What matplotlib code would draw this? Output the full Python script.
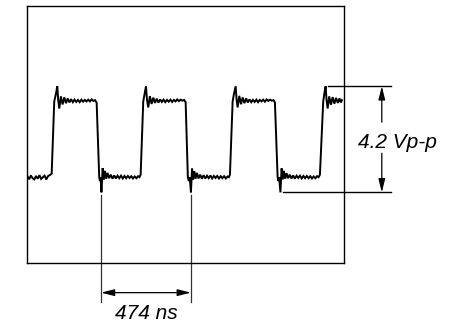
import matplotlib
matplotlib.use('Agg')
import matplotlib.pyplot as plt

# scope trace: time in ns, level in volts (low level = 0 V)
trace_ns = [
    0, 9, 18, 27, 36, 45, 54, 63, 72, 81, 90, 99, 108, 117, 127.5,
    141, 150, 157, 162, 167.5,
    176, 185, 194, 203, 212, 221, 230, 239, 248, 257, 266,
    275, 284, 293, 302, 311, 320, 329, 338, 347, 356, 364.5,
    378, 382, 385, 389.8,
    396, 402, 408, 415, 422, 430, 439, 448, 457, 466, 475, 484, 493,
    502, 511, 520, 529, 538, 547, 556, 565, 574, 583, 590, 596.3,
    610, 617, 624.3, 630, 636.4,
    645, 654, 663, 672, 681, 690, 699, 708, 717, 726, 735,
    744, 753, 762, 771, 780, 789, 798, 807, 816, 825, 833.4,
    845, 850, 855, 861.3,
    867, 873, 879, 886, 893, 901, 910, 919, 928, 937, 946, 955, 964,
    973, 982, 991, 1000, 1009, 1018, 1027, 1036, 1045, 1054, 1061, 1066.8,
    1081, 1088, 1096.8, 1102, 1107.3,
    1116, 1125, 1134, 1143, 1152, 1161, 1170, 1179, 1188, 1197, 1206,
    1215, 1224, 1233, 1242, 1251, 1260, 1269, 1278, 1287, 1296, 1303.8,
    1318, 1322, 1326, 1332.8,
    1339, 1345, 1351, 1358, 1365, 1373, 1382, 1391, 1400, 1409, 1418, 1427, 1436,
    1445, 1454, 1463, 1472, 1481, 1490, 1499, 1508, 1517, 1526, 1534, 1540.9,
    1558.3, 1564, 1570.9, 1576, 1581.5,
    1590, 1599, 1608, 1617, 1626, 1635, 1644, 1651, 1656.8,
]
trace_v = [
    0.03, -0.08, 0.07, -0.04, -0.09, 0.05, -0.06, 0.08, -0.07, 0.0, 0.06, -0.09, 0.04, 0.08, 0.14,
    3.0, 3.3, 3.6, 3.05, 2.72,
    3.2, 2.88, 3.16, 2.93, 3.12, 2.96, 3.09, 2.97, 3.07, 2.98, 3.06,
    2.97, 3.07, 2.99, 3.06, 3.0, 3.07, 3.0, 3.08, 3.02, 3.05, 2.95,
    0.0, -0.15, 0.0, -0.6,
    0.36, -0.1, 0.25, -0.06, 0.17, -0.04, 0.1, -0.06, 0.07, -0.05, 0.06, -0.04, 0.06,
    -0.05, 0.05, -0.04, 0.05, -0.03, 0.04, -0.05, 0.03, -0.04, 0.04, 0.0, 0.1,
    3.0, 3.3, 3.6, 3.05, 2.76,
    3.21, 2.9, 3.15, 2.94, 3.11, 2.95, 3.08, 2.98, 3.07, 2.97, 3.06,
    2.99, 3.07, 2.98, 3.06, 3.0, 3.08, 3.01, 3.07, 3.03, 3.06, 2.97,
    0.0, -0.15, 0.0, -0.6,
    0.34, -0.1, 0.24, -0.06, 0.17, -0.05, 0.1, -0.06, 0.08, -0.05, 0.06, -0.04, 0.07,
    -0.05, 0.05, -0.03, 0.05, -0.05, 0.04, -0.04, 0.04, -0.05, 0.03, 0.0, 0.1,
    3.0, 3.3, 3.6, 3.05, 2.76,
    3.22, 2.89, 3.16, 2.93, 3.12, 2.96, 3.08, 2.97, 3.06, 2.98, 3.07,
    2.97, 3.06, 3.0, 3.07, 2.99, 3.08, 3.02, 3.07, 3.03, 3.05, 2.96,
    0.0, -0.15, 0.0, -0.6,
    0.35, -0.09, 0.25, -0.06, 0.16, -0.04, 0.1, -0.05, 0.07, -0.06, 0.06, -0.03, 0.06,
    -0.05, 0.05, -0.04, 0.05, -0.04, 0.04, -0.05, 0.03, -0.04, 0.04, 0.0, 0.1,
    3.0, 3.3, 3.6, 3.05, 2.72,
    3.2, 2.87, 3.17, 2.91, 3.14, 2.94, 3.12, 2.96, 3.05,
]

# measurement annotations
period_marks_ns = [387, 861]
period_label = "474 ns"
vpp_levels = [3.6, -0.6]
vpp_label = "4.2 Vp-p"

fig = plt.figure(figsize=(4.58, 3.26), dpi=100)
ax = fig.add_axes([0.060, 0.193, 0.692, 0.788])
ax.plot(trace_ns, trace_v, color='black', lw=1.4, solid_joinstyle='miter')
ax.set_xlim(0, 1670)
ax.set_ylim(-3.4, 6.77)
ax.set_xticks([])
ax.set_yticks([])
for s in ax.spines.values():
    s.set_linewidth(1.0)
    s.set_color('black')

font = dict(family='Liberation Sans', style='italic', fontsize=15)
arrow = dict(arrowstyle='-|>,head_length=0.8,head_width=0.2', color='black',
             lw=0.9, shrinkA=0, shrinkB=0)

# amplitude: reference lines, arrow split around the label
ax.plot([1583, 1915], [vpp_levels[0]] * 2, color='black', lw=1.0, clip_on=False)
ax.plot([1346, 1915], [vpp_levels[1]] * 2, color='black', lw=1.0, clip_on=False)
ax.annotate('', xy=(1867, vpp_levels[0]), xytext=(1867, 2.18),
            arrowprops=arrow, annotation_clip=False)
ax.annotate('', xy=(1867, vpp_levels[1]), xytext=(1867, 0.95),
            arrowprops=arrow, annotation_clip=False)
ax.text(1949, 1.14, vpp_label, ha='center', va='baseline', clip_on=False, **font)

# period: two marker lines and a double arrow
for t in period_marks_ns:
    ax.plot([t, t], [-0.72, -4.95], color='#333333', lw=0.9, clip_on=False)
ax.annotate('', xy=(period_marks_ns[0], -4.57), xytext=(period_marks_ns[1], -4.57),
            arrowprops=dict(arrow, arrowstyle='<|-|>,head_length=0.8,head_width=0.2'),
            annotation_clip=False)
ax.text(sum(period_marks_ns) / 2, -5.6, period_label, ha='center', va='baseline',
        clip_on=False, **font)

fig.savefig('out.png', dpi=100)
